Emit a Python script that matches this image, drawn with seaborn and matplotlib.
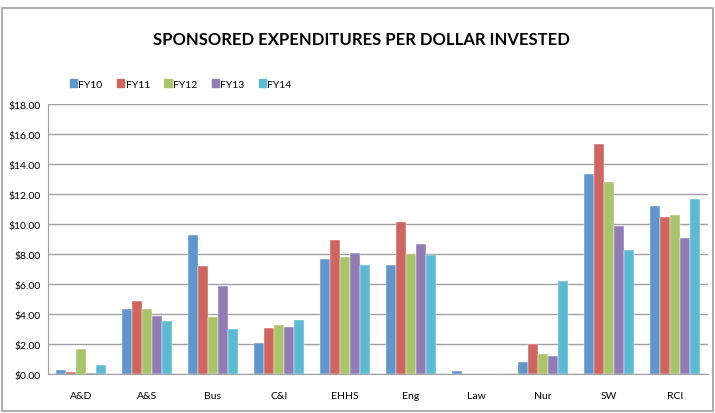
import matplotlib
matplotlib.use('Agg')
import matplotlib.pyplot as plt
import matplotlib.ticker as ticker
from matplotlib.patches import Rectangle
import seaborn as sns
import pandas as pd

colleges = ['A&D', 'A&S', 'Bus', 'C&I', 'EHHS', 'Eng', 'Law', 'Nur', 'SW', 'RCI']
years = ['FY10', 'FY11', 'FY12', 'FY13', 'FY14']
fy10 = [0.30, 4.35, 9.30, 2.05, 7.70, 7.30, 0.20, 0.80, 13.36, 11.18]
fy11 = [0.15, 4.90, 7.20, 3.05, 8.95, 10.13, 0.00, 2.03, 15.32, 10.47]
fy12 = [1.65, 4.35, 3.80, 3.30, 7.80, 8.04, 0.00, 1.36, 12.83, 10.58]
fy13 = [0.05, 3.85, 5.85, 3.15, 8.05, 8.66, 0.02, 1.20, 9.87, 9.06]
fy14 = [0.60, 3.55, 3.00, 3.60, 7.30, 7.95, 0.00, 6.21, 8.29, 11.69]
palette = ['#6096CB', '#CF655F', '#A9C46B', '#937CB5', '#5CBAD3']

df = pd.DataFrame({'FY10': fy10, 'FY11': fy11, 'FY12': fy12, 'FY13': fy13, 'FY14': fy14},
                  index=colleges)
long = df.reset_index(names='College').melt(id_vars='College', var_name='Year', value_name='Value')

sns.set_style('white')
plt.rcParams['font.family'] = ['Lato', 'DejaVu Sans']
plt.rcParams['text.color'] = 'black'
plt.rcParams['xtick.color'] = 'black'
plt.rcParams['ytick.color'] = 'black'

fig = plt.figure(figsize=(7.15, 4.14), dpi=100)
ax = fig.add_axes([0.067, 0.094, 0.923, 0.652])
sns.barplot(data=long, x='College', y='Value', hue='Year', hue_order=years,
            palette=palette, width=0.76, gap=0, saturation=1, ax=ax, legend=False,
            edgecolor='white', linewidth=0.3)

ax.set_ylim(0, 18)
ax.set_xlim(-0.5, len(colleges) - 0.5)
ax.yaxis.set_major_locator(ticker.MultipleLocator(2))
ax.yaxis.set_major_formatter(ticker.FuncFormatter(lambda v, p: f'${v:.2f}'))
ax.grid(axis='y', color='#a0a0a0', linewidth=1)
ax.set_axisbelow(True)
ax.set_xlabel('')
ax.set_ylabel('')
for s in ['top', 'right']:
    ax.spines[s].set_visible(False)
ax.spines['left'].set_color('#a0a0a0')
ax.spines['bottom'].set_color('#a0a0a0')
ax.tick_params(axis='y', labelsize=7.5, length=0, pad=5)
ax.tick_params(axis='x', labelsize=7.5, length=0, pad=12)

fig.text(0.505, 0.903, 'SPONSORED EXPENDITURES PER DOLLAR INVESTED',
         ha='center', va='center', fontsize=12, fontweight='bold')

handles = [Rectangle((0, 0), 1, 1, color=c) for c in palette]
fig.legend(handles, years, loc='center left', bbox_to_anchor=(0.085, 0.795), ncol=5,
           frameon=False, fontsize=7.5, handlelength=0.7, handleheight=0.7,
           handletextpad=0.1, columnspacing=1.4)

# chart border
fig.patches.append(Rectangle((0.003, 0.006), 0.994, 0.972, transform=fig.transFigure,
                             fill=False, edgecolor='#a0a0a0', linewidth=1.2))

fig.savefig('out.png', dpi=100)
